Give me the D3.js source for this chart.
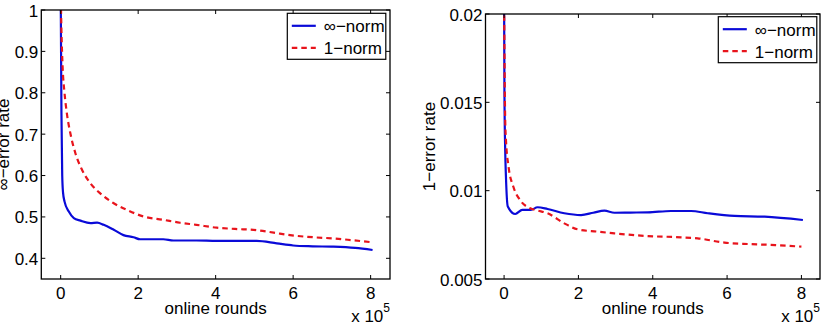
<!DOCTYPE html>
<html>
<head>
<meta charset="utf-8">
<script src="https://cdn.jsdelivr.net/npm/d3@7"></script>
<style>
  body { margin: 0; background: #fff; }
  svg text { font-family: "Liberation Sans", Arial, Helvetica, sans-serif; fill: #000; }
</style>
</head>
<body>
<svg id="fig" width="828" height="326"></svg>
<script>
// online rounds are in units of 10^5, as the axis shows
var xTicks = [0, 2, 4, 6, 8];

// left panel: infinity-error rate
var infRateTicks = [0.4, 0.5, 0.6, 0.7, 0.8, 0.9, 1];
var infRateTickLabels = ["0.4", "0.5", "0.6", "0.7", "0.8", "0.9", "1"];
var infNormX = [0, 0.02, 0.04, 0.06, 0.10, 0.21, 0.34, 0.51, 0.77, 0.94, 1.11, 1.37, 1.62, 1.88, 2.05, 2.65, 2.91, 3.5, 4.03, 4.6, 5.06, 5.58, 6.0, 6.5, 7.04, 7.6, 8.05];
var infNormInf = [1.05, 0.75, 0.60, 0.56, 0.537, 0.513, 0.497, 0.491, 0.485, 0.486, 0.481, 0.469, 0.456, 0.451, 0.446, 0.446, 0.443, 0.443, 0.442, 0.442, 0.442, 0.436, 0.431, 0.429, 0.428, 0.425, 0.420];
var oneNormX = [0, 0.02, 0.05, 0.10, 0.16, 0.25, 0.38, 0.55, 0.77, 1.02, 1.37, 1.71, 2.14, 2.65, 3.08, 3.5, 4.03, 4.5, 5.06, 5.5, 5.92, 6.5, 7.04, 7.5, 8.02];
var oneNormInf = [1.05, 0.95, 0.863, 0.799, 0.750, 0.702, 0.654, 0.614, 0.581, 0.557, 0.533, 0.517, 0.501, 0.493, 0.486, 0.481, 0.474, 0.471, 0.468, 0.462, 0.456, 0.451, 0.448, 0.444, 0.439];

// right panel: 1-error rate
var oneRateTicks = [0.005, 0.01, 0.015, 0.02];
var oneRateTickLabels = ["0.005", "0.01", "0.015", "0.02"];
var infNormX2 = [0, 0.01, 0.03, 0.05, 0.10, 0.30, 0.49, 0.72, 0.90, 1.17, 1.62, 2.07, 2.40, 2.70, 2.97, 3.40, 3.87, 4.49, 5.03, 5.48, 6.20, 7.01, 8.04];
var infNormOne = [0.021, 0.0155, 0.0123, 0.0108, 0.0091, 0.00868, 0.00891, 0.00891, 0.00906, 0.00896, 0.00872, 0.00862, 0.00875, 0.00887, 0.00875, 0.00876, 0.00877, 0.00885, 0.00885, 0.00872, 0.00857, 0.00853, 0.00834];
var oneNormX2 = [0, 0.01, 0.02, 0.03, 0.05, 0.12, 0.25, 0.43, 0.70, 0.90, 1.17, 1.62, 1.98, 2.52, 2.97, 3.87, 4.76, 5.21, 5.93, 6.56, 7.3, 8.0];
var oneNormOne = [0.021, 0.018, 0.0155, 0.014, 0.0129, 0.01136, 0.01022, 0.00947, 0.0090, 0.00888, 0.00872, 0.00815, 0.00781, 0.00768, 0.00758, 0.00743, 0.00736, 0.0073, 0.00706, 0.00698, 0.00692, 0.00683];

var seriesNames = ["\u221e\u2212norm", "1\u2212norm"];
var seriesColors = ["#0a0ad8", "#e8141c"];
var seriesDash = [null, "5.5,4"];

var svg = d3.select("#fig");

/*
 * draws one axes box with curves, ticks on all four sides and a legend
 */
function drawPanel(p) {
    var x = d3.scaleLinear().domain([-0.5, 8.5]).range([p.left, p.right]);
    var y = d3.scaleLinear().domain(p.yDomain).range([p.bottom, p.top]);
    var g = svg.append("g");

    g.append("clipPath").attr("id", p.id + "clip")
        .append("rect").attr("x", p.left).attr("y", p.top)
        .attr("width", p.right - p.left).attr("height", p.bottom - p.top);

    var line = d3.line()
        .x(function (d) { return x(d[0]); })
        .y(function (d) { return y(d[1]); })
        .curve(d3.curveMonotoneX);

    // draw red first so blue sits under? matlab draws in order: blue then red
    p.series.forEach(function (s, i) {
        g.append("path")
            .attr("clip-path", "url(#" + p.id + "clip)")
            .attr("d", line(d3.zip(s.x, s.y)))
            .attr("fill", "none")
            .attr("stroke", seriesColors[i])
            .attr("stroke-width", 2.2)
            .attr("stroke-dasharray", seriesDash[i]);
    });

    var tl = 4;
    // bottom / top ticks
    var xt = g.append("g").attr("stroke", "#000").attr("stroke-width", 1);
    xTicks.forEach(function (t) {
        xt.append("line").attr("x1", x(t)).attr("x2", x(t)).attr("y1", p.bottom).attr("y2", p.bottom - tl);
        xt.append("line").attr("x1", x(t)).attr("x2", x(t)).attr("y1", p.top).attr("y2", p.top + tl);
    });
    g.selectAll(".xl").data(xTicks).enter().append("text")
        .attr("x", function (d) { return x(d); })
        .attr("y", 299)
        .attr("text-anchor", "middle")
        .style("font-size", "17px")
        .text(function (d) { return d; });

    // left / right ticks
    p.yTicks.forEach(function (t) {
        xt.append("line").attr("x1", p.left).attr("x2", p.left + tl).attr("y1", y(t)).attr("y2", y(t));
        xt.append("line").attr("x1", p.right).attr("x2", p.right - tl).attr("y1", y(t)).attr("y2", y(t));
    });
    g.selectAll(".yl").data(p.yTicks).enter().append("text")
        .attr("x", p.left - 3)
        .attr("y", function (d) { return y(d) + 6.5; })
        .attr("text-anchor", "end")
        .style("font-size", "17px")
        .text(function (d, i) { return p.yTickLabels[i]; });

    g.append("rect")
        .attr("x", p.left).attr("y", p.top)
        .attr("width", p.right - p.left).attr("height", p.bottom - p.top)
        .attr("fill", "none").attr("stroke", "#000").attr("stroke-width", 1.3);

    g.append("text")
        .attr("x", (p.left + p.right) / 2).attr("y", 314)
        .attr("text-anchor", "middle")
        .style("font-size", "17px")
        .text("online rounds");

    var ex = g.append("text")
        .attr("x", p.right).attr("y", 322)
        .attr("text-anchor", "end")
        .style("font-size", "17px");
    ex.append("tspan").text("x 10");
    ex.append("tspan").attr("dy", -10).style("font-size", "12px").text("5");

    g.append("text")
        .attr("transform", "translate(" + p.yLabelX + "," + ((p.top + p.bottom) / 2) + ") rotate(-90)")
        .attr("text-anchor", "middle")
        .style("font-size", "17px")
        .text(p.yLabel);

    // legend
    var lg = g.append("g").attr("transform", "translate(" + p.legX + "," + p.legY + ")");
    lg.append("rect").attr("width", 98.5).attr("height", 46)
        .attr("fill", "#fff").attr("stroke", "#000").attr("stroke-width", 1.2);
    seriesNames.forEach(function (n, i) {
        var yy = 12.5 + i * 22;
        lg.append("line").attr("x1", 4.5).attr("x2", 28.5).attr("y1", yy).attr("y2", yy)
            .attr("stroke", seriesColors[i]).attr("stroke-width", 2.2)
            .attr("stroke-dasharray", seriesDash[i]);
        lg.append("text").attr("x", 36.5).attr("y", yy + 6.5)
            .style("font-size", "17px").text(n);
    });
}

drawPanel({
    id: "a", left: 41.3, right: 390, top: 10, bottom: 279,
    yDomain: [0.35, 1], yTicks: infRateTicks, yTickLabels: infRateTickLabels,
    yLabel: "\u221e\u2212error rate", yLabelX: 8.5,
    legX: 287.3, legY: 13.3,
    series: [{x: infNormX, y: infNormInf}, {x: oneNormX, y: oneNormInf}]
});

drawPanel({
    id: "b", left: 485.5, right: 820, top: 14, bottom: 279,
    yDomain: [0.005, 0.02], yTicks: oneRateTicks, yTickLabels: oneRateTickLabels,
    yLabel: "1\u2212error rate", yLabelX: 434.5,
    legX: 718.3, legY: 16.7,
    series: [{x: infNormX2, y: infNormOne}, {x: oneNormX2, y: oneNormOne}]
});
</script>
</body>
</html>
